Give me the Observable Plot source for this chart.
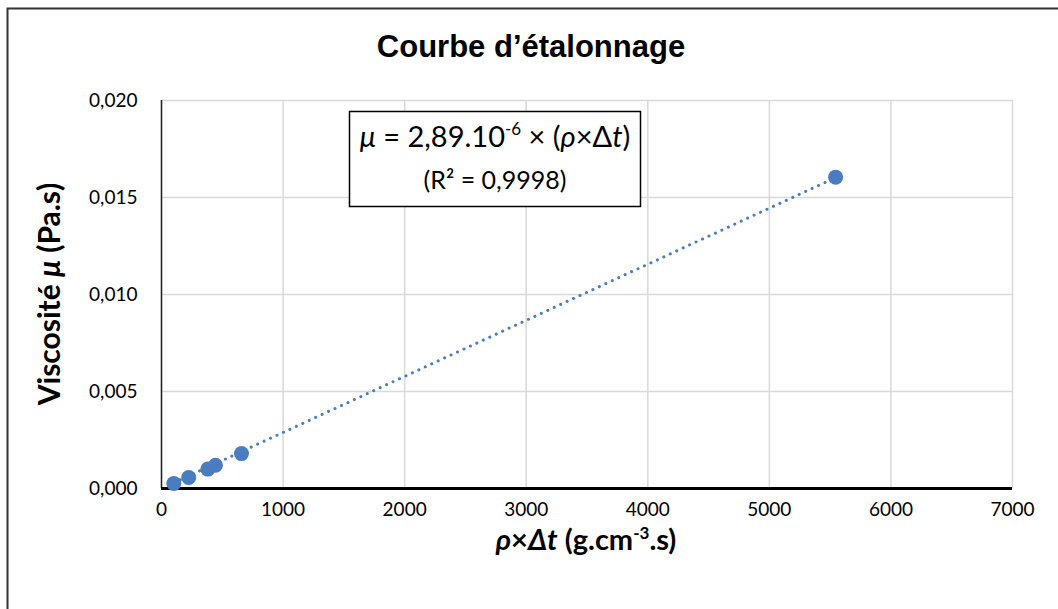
<!DOCTYPE html>
<html>
<head>
<meta charset="utf-8">
<script src="https://cdn.jsdelivr.net/npm/d3@7"></script>
<script src="https://cdn.jsdelivr.net/npm/@observablehq/plot@0.6"></script>
<style>
  html, body { margin: 0; padding: 0; background: #fff; }
  svg { display: block; }
</style>
</head>
<body>
<div id="chart"></div>
<script>
// ---- data ----
const rhoDt = [101, 224, 381, 444, 658, 5545];            // ρ×Δt (g.cm-3.s)
const viscosity = [0.00026, 0.00057, 0.00100, 0.00120, 0.00180, 0.01605]; // μ (Pa.s)
const slope = 2.89e-6;
const xTicks = [0, 1000, 2000, 3000, 4000, 5000, 6000, 7000];
const yTicks = [0, 0.005, 0.010, 0.015, 0.020];
const titleText = "Courbe d’étalonnage";

const points = rhoDt.map((x, i) => ({x, y: viscosity[i]}));
const xMin = d3.min(rhoDt), xMax = d3.max(rhoDt);
const trend = [{x: xMin, y: slope * xMin}, {x: xMax, y: slope * xMax}];

const color = "#4a7dbf";

const plot = Plot.plot({
  width: 1058,
  height: 609,
  marginTop: 100,
  marginRight: 46,
  marginBottom: 121,
  marginLeft: 161,
  style: {fontFamily: "Lato, sans-serif", fontSize: "19px", color: "#000", background: "#fff"},
  x: {domain: [0, 7000]},
  y: {domain: [0, 0.02]},
  marks: [
    Plot.gridX(xTicks, {stroke: "#d9d9d9", strokeOpacity: 1, strokeWidth: 1.5}),
    Plot.gridY(yTicks, {stroke: "#d9d9d9", strokeOpacity: 1, strokeWidth: 1.5}),
    Plot.ruleX([0], {stroke: "#222", strokeWidth: 1.5}),
    Plot.axisX({ticks: xTicks, tickSize: 0, tickPadding: 14, label: null, fontSize: 19, tickFormat: d => String(d)}),
    Plot.axisY({ticks: yTicks, tickSize: 0, tickPadding: 24, label: null, fontSize: 19,
      tickFormat: d => d.toFixed(3).replace(".", ",")}),
    Plot.line(trend, {x: "x", y: "y", stroke: color, strokeWidth: 3, strokeDasharray: "0.1,7", strokeLinecap: "round"}),
    Plot.ruleY([0], {stroke: "#000", strokeWidth: 3}),
    Plot.dot(points, {x: "x", y: "y", r: 7.5, fill: color, stroke: "none"})
  ]
});

document.getElementById("chart").appendChild(plot);
const svg = d3.select(plot);

// outer border (left and top)
svg.append("path").attr("d", "M7.5,609 V8.5 H1058").attr("fill", "none").attr("stroke", "#333").attr("stroke-width", 2);

// title
svg.append("text").attr("x", 531).attr("y", 57).attr("text-anchor", "middle")
  .attr("font-family", "'Liberation Sans', Arial, sans-serif").attr("font-weight", "bold")
  .attr("font-size", 31).attr("fill", "#000").text(titleText);

// y label
const yl = svg.append("text").attr("transform", "translate(60,294) rotate(-90)")
  .attr("text-anchor", "middle").attr("font-family", "Lato, sans-serif").attr("font-weight", "bold")
  .attr("font-size", 30).attr("fill", "#000");
yl.append("tspan").text("Viscosité ");
yl.append("tspan").attr("font-style", "italic").text("μ");
yl.append("tspan").text(" (Pa.s)");

// x label
const xl = svg.append("text").attr("x", 586).attr("y", 550).attr("text-anchor", "middle")
  .attr("font-family", "Lato, sans-serif").attr("font-weight", "bold").attr("font-size", 29).attr("fill", "#000");
xl.append("tspan").attr("font-style", "italic").text("ρ");
xl.append("tspan").text("×");
xl.append("tspan").attr("font-style", "italic").text("Δt");
xl.append("tspan").text(" (g.cm");
xl.append("tspan").attr("font-size", 17).attr("dy", -11).text("-3");
xl.append("tspan").attr("dy", 11).text(".s)");

// equation box
svg.append("rect").attr("x", 349.5).attr("y", 111.5).attr("width", 291).attr("height", 95)
  .attr("fill", "#fff").attr("stroke", "#000").attr("stroke-width", 1.5);
const eq = svg.append("text").attr("x", 495).attr("y", 147).attr("text-anchor", "middle")
  .attr("font-family", "Lato, sans-serif").attr("font-size", 29).attr("fill", "#000");
eq.append("tspan").attr("font-style", "italic").text("μ");
eq.append("tspan").text(" = 2,89.10");
eq.append("tspan").attr("font-size", 17).attr("dy", -12).text("-6");
eq.append("tspan").attr("dy", 12).text(" × (");
eq.append("tspan").attr("font-style", "italic").text("ρ");
eq.append("tspan").text("×Δ");
eq.append("tspan").attr("font-style", "italic").text("t");
eq.append("tspan").text(")");
const eq2 = svg.append("text").attr("x", 495).attr("y", 189).attr("text-anchor", "middle")
  .attr("font-family", "Lato, sans-serif").attr("font-size", 25).attr("fill", "#000");
eq2.append("tspan").text("(R² = 0,9998)");
</script>
</body>
</html>
